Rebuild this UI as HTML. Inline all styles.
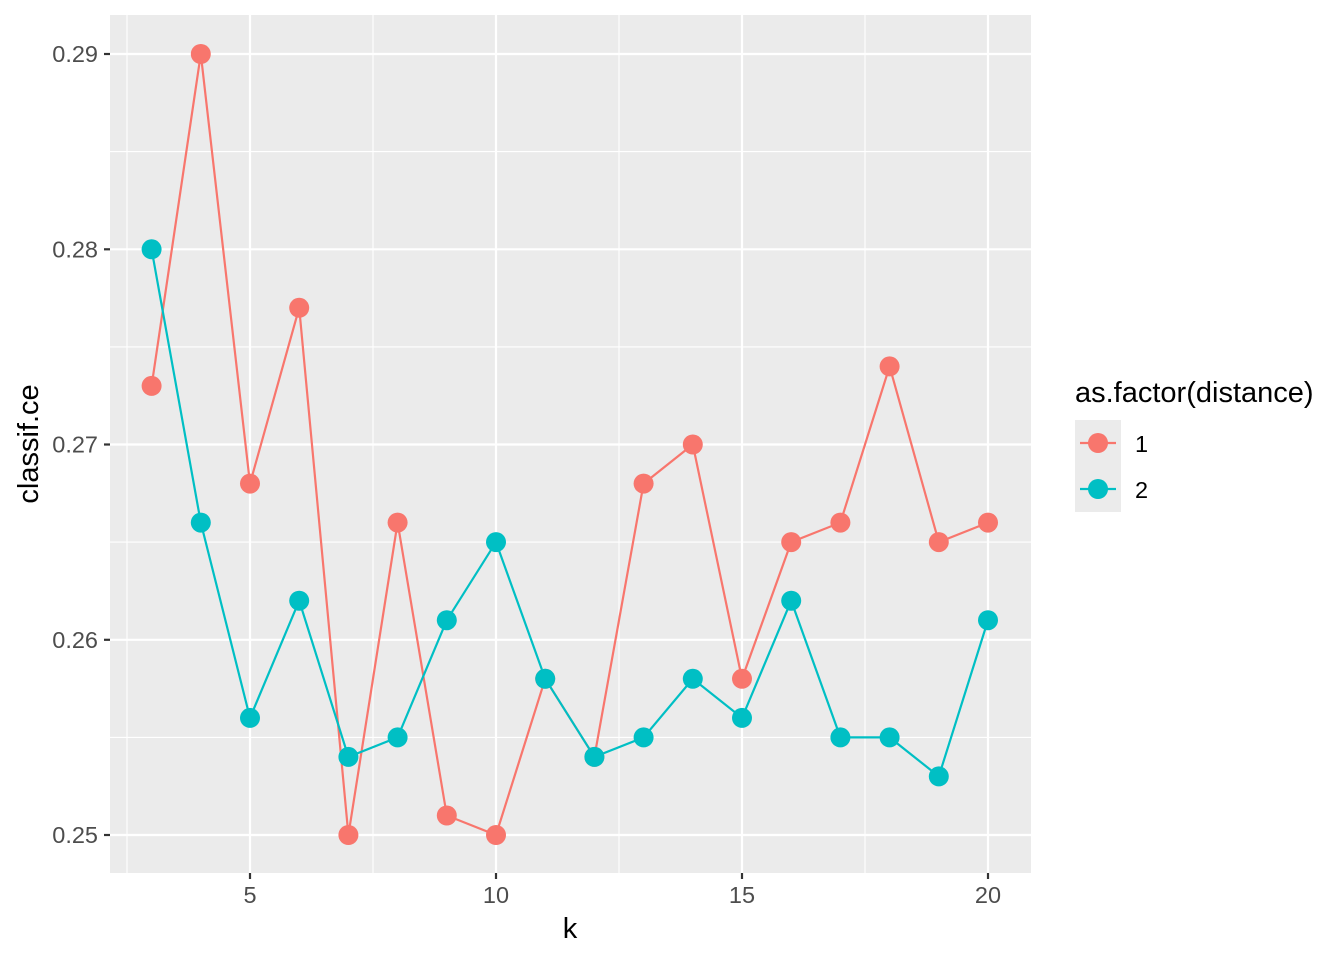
<!DOCTYPE html>
<html><head><meta charset="utf-8"><style>body{margin:0;background:#fff}svg{display:block}</style></head><body>
<svg width="1344" height="960" xmlns="http://www.w3.org/2000/svg" font-family="Liberation Sans, sans-serif">
<rect x="110" y="15" width="921" height="858" fill="#EBEBEB"/>
<g stroke="#fff" stroke-width="1.1">
<line x1="110" x2="1031" y1="151.6" y2="151.6"/><line x1="110" x2="1031" y1="346.9" y2="346.9"/><line x1="110" x2="1031" y1="542.1" y2="542.1"/><line x1="110" x2="1031" y1="737.4" y2="737.4"/>
<line x1="127" x2="127" y1="15" y2="873"/><line x1="373" x2="373" y1="15" y2="873"/><line x1="619" x2="619" y1="15" y2="873"/><line x1="865" x2="865" y1="15" y2="873"/>
</g>
<g stroke="#fff" stroke-width="2.2">
<line x1="110" x2="1031" y1="54" y2="54"/><line x1="110" x2="1031" y1="249.3" y2="249.3"/><line x1="110" x2="1031" y1="444.5" y2="444.5"/><line x1="110" x2="1031" y1="639.8" y2="639.8"/><line x1="110" x2="1031" y1="835" y2="835"/>
<line x1="250" x2="250" y1="15" y2="873"/><line x1="496" x2="496" y1="15" y2="873"/><line x1="742" x2="742" y1="15" y2="873"/><line x1="988" x2="988" y1="15" y2="873"/>
</g>
<g stroke="#333" stroke-width="2.2">
<line x1="104" x2="110" y1="54" y2="54"/><line x1="104" x2="110" y1="249.3" y2="249.3"/><line x1="104" x2="110" y1="444.5" y2="444.5"/><line x1="104" x2="110" y1="639.8" y2="639.8"/><line x1="104" x2="110" y1="835" y2="835"/>
<line x1="250" x2="250" y1="873" y2="879"/><line x1="496" x2="496" y1="873" y2="879"/><line x1="742" x2="742" y1="873" y2="879"/><line x1="988" x2="988" y1="873" y2="879"/>
</g>
<g fill="#4D4D4D" font-size="23.5" text-anchor="end">
<text x="98" y="62">0.29</text><text x="98" y="257.3">0.28</text><text x="98" y="452.5">0.27</text><text x="98" y="647.8">0.26</text><text x="98" y="843">0.25</text>
</g>
<g fill="#4D4D4D" font-size="23.5" text-anchor="middle">
<text x="250" y="903">5</text><text x="496" y="903">10</text><text x="742" y="903">15</text><text x="988" y="903">20</text>
</g>
<text x="570" y="938" font-size="29" text-anchor="middle">k</text>
<text transform="translate(38,444) rotate(-90)" font-size="29" text-anchor="middle">classif.ce</text>
<polyline fill="none" stroke="#F8766D" stroke-width="2.2" points="151.6,385.9 200.8,54 250,483.6 299.2,307.8 348.4,835 397.6,522.6 446.8,815.5 496,835 545.2,678.8 594.4,756.9 643.6,483.6 692.8,444.5 742,678.8 791.2,542.1 840.4,522.6 889.6,366.4 938.8,542.1 988,522.6"/>
<polyline fill="none" stroke="#00BFC4" stroke-width="2.2" points="151.6,249.3 200.8,522.6 250,717.9 299.2,600.7 348.4,756.9 397.6,737.4 446.8,620.2 496,542.1 545.2,678.8 594.4,756.9 643.6,737.4 692.8,678.8 742,717.9 791.2,600.7 840.4,737.4 889.6,737.4 938.8,776.4 988,620.2"/>
<g fill="#F8766D">
<circle cx="151.6" cy="385.9" r="10"/><circle cx="200.8" cy="54" r="10"/><circle cx="250" cy="483.6" r="10"/><circle cx="299.2" cy="307.8" r="10"/><circle cx="348.4" cy="835" r="10"/><circle cx="397.6" cy="522.6" r="10"/><circle cx="446.8" cy="815.5" r="10"/><circle cx="496" cy="835" r="10"/><circle cx="545.2" cy="678.8" r="10"/><circle cx="594.4" cy="756.9" r="10"/><circle cx="643.6" cy="483.6" r="10"/><circle cx="692.8" cy="444.5" r="10"/><circle cx="742" cy="678.8" r="10"/><circle cx="791.2" cy="542.1" r="10"/><circle cx="840.4" cy="522.6" r="10"/><circle cx="889.6" cy="366.4" r="10"/><circle cx="938.8" cy="542.1" r="10"/><circle cx="988" cy="522.6" r="10"/>
</g>
<g fill="#00BFC4">
<circle cx="151.6" cy="249.3" r="10"/><circle cx="200.8" cy="522.6" r="10"/><circle cx="250" cy="717.9" r="10"/><circle cx="299.2" cy="600.7" r="10"/><circle cx="348.4" cy="756.9" r="10"/><circle cx="397.6" cy="737.4" r="10"/><circle cx="446.8" cy="620.2" r="10"/><circle cx="496" cy="542.1" r="10"/><circle cx="545.2" cy="678.8" r="10"/><circle cx="594.4" cy="756.9" r="10"/><circle cx="643.6" cy="737.4" r="10"/><circle cx="692.8" cy="678.8" r="10"/><circle cx="742" cy="717.9" r="10"/><circle cx="791.2" cy="600.7" r="10"/><circle cx="840.4" cy="737.4" r="10"/><circle cx="889.6" cy="737.4" r="10"/><circle cx="938.8" cy="776.4" r="10"/><circle cx="988" cy="620.2" r="10"/>
</g>
<text x="1075" y="402" font-size="29">as.factor(distance)</text>
<rect x="1075" y="420" width="46" height="92" fill="#EBEBEB"/>
<line x1="1080" x2="1116" y1="443" y2="443" stroke="#F8766D" stroke-width="2.2"/>
<circle cx="1098" cy="443" r="10" fill="#F8766D"/>
<line x1="1080" x2="1116" y1="489" y2="489" stroke="#00BFC4" stroke-width="2.2"/>
<circle cx="1098" cy="489" r="10" fill="#00BFC4"/>
<text x="1135" y="452" font-size="23.5">1</text>
<text x="1135" y="498" font-size="23.5">2</text>
</svg>
</body></html>
